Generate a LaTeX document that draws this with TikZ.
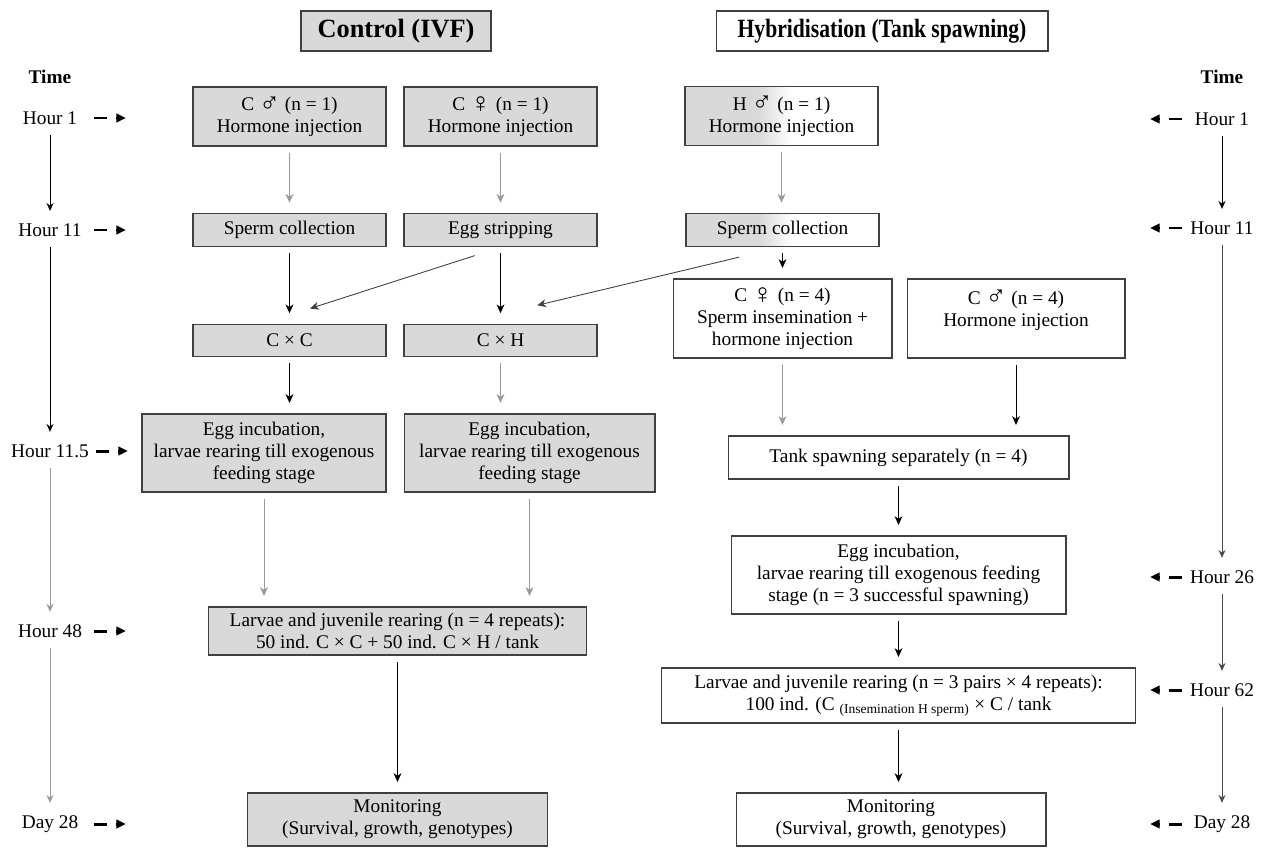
\documentclass[tikz,border=0pt]{standalone}
\usepackage{fontspec}
\setmainfont{Liberation Serif}
\usetikzlibrary{arrows.meta,calc}
\definecolor{boxgray}{HTML}{D9D9D9}
\definecolor{edgegray}{HTML}{404040}
\definecolor{lightarrow}{HTML}{9A9A9A}
\newcommand{\male}{\raisebox{-0.15ex}{\scalebox{1.45}{♂}}}
\newcommand{\female}{\raisebox{-0.25ex}{\scalebox{1.45}{♀}}}
\tikzset{
  base/.style={draw=edgegray, line width=0.6pt, align=center, inner sep=1pt,
    font=\fontsize{11}{12.5}\selectfont},
  grey box/.style={base, fill=boxgray},
  white box/.style={base, fill=white},
  half box/.style={base, fill=white, path picture={
      \fill[boxgray] (path picture bounding box.south west) rectangle
        ($(path picture bounding box.north west)!0.38!(path picture bounding box.north east)$);
      \shade[left color=boxgray, right color=white]
        ($(path picture bounding box.south west)!0.38!(path picture bounding box.south east)$) rectangle
        ($(path picture bounding box.north west)!0.55!(path picture bounding box.north east)$);}},
  heading/.style={font=\fontsize{15}{18}\selectfont\bfseries, minimum height=0.8cm},
  pair box/.style={minimum width=3.86cm, minimum height=1.18cm},
  slim box/.style={minimum width=3.86cm, minimum height=0.65cm},
  flow/.style={-{Stealth[length=5pt,width=4.5pt,inset=1.5pt]}, line width=0.5pt,
    shorten <=3.5pt, shorten >=6pt},
  timelab/.style={inner sep=1pt, font=\fontsize{11}{12.5}\selectfont},
  timehead/.style={inner sep=1pt, font=\fontsize{11}{12.5}\selectfont\bfseries},
  timearr/.style={line width=1.7pt, dash pattern=on 7.4pt off 5pt,
    -{Triangle[length=5.5pt,width=4.8pt]}},
  timeline/.style={-{Stealth[length=4.5pt,width=4pt,inset=1.5pt]}, line width=0.5pt,
    shorten <=5pt, shorten >=6pt}
}
\begin{document}
\begin{tikzpicture}[x=0.02cm,y=-0.02cm]
  \useasboundingbox (0,0) rectangle (1268,849);
  % headings
  \node[grey box, heading, minimum width=3.8cm] (ctrl) at (396,31) {Control (IVF)};
  \node[white box, heading, minimum width=6.64cm] (hyb) at (882,31)
    {\scalebox{0.82}[1]{Hybridisation (Tank spawning)}};
  % time, left
  \node[timehead] (tmL) at (50,77) {Time};
  \foreach \lab/\y/\s [count=\i] in {Hour 1/118/44, Hour 11/230/44, Hour 11.5/451/46, Hour 48/631/44, Day 28/824/44}{
    \node[timelab] (tL\i) at (50,\y) {\lab};
    \draw[timearr] ($(tL\i)+(\s,0)$) -- ++(32,0);
  }
  \foreach \a/\b/\c in {1/2/black, 2/3/black, 3/4/lightarrow, 4/5/lightarrow}
    \draw[timeline, \c] (tL\a.south) -- (tL\b.north);
  % time, right
  \node[timehead] (tmR) at (1222,77) {Time};
  \foreach \lab/\y [count=\i] in {Hour 1/119, Hour 11/228, Hour 26/577, Hour 62/690, Day 28/824}{
    \node[timelab] (tR\i) at (1222,\y) {\lab};
    \draw[timearr] ($(tR\i)+(-40,0)$) -- ++(-32,0);
  }
  \foreach \a/\b/\c in {1/2/black, 2/3/black!70, 3/4/black!70, 4/5/black!70}
    \draw[timeline, \c] (tR\a.south) -- (tR\b.north);

  % control (IVF)
  \node[grey box, pair box] (cm1) at (289.5,116.5) {C \male\ (n = 1)\\Hormone injection};
  \node[grey box, pair box] (cf1) at (500.5,116.5) {C \female\ (n = 1)\\Hormone injection};
  \node[grey box, slim box] (spc) at (289.5,230) {Sperm collection};
  \node[grey box, slim box] (egs) at (500.5,230) {Egg stripping};
  \node[grey box, slim box] (cxc) at (289.5,340.5) {C × C};
  \node[grey box, slim box] (cxh) at (500.5,340.5) {C × H};
  \node[grey box, minimum width=4.88cm, minimum height=1.56cm] (eiL) at (264,453)
    {Egg incubation,\\larvae rearing till exogenous\\feeding stage};
  \node[grey box, minimum width=5.02cm, minimum height=1.56cm] (eiC) at (529.5,453)
    {Egg incubation,\\larvae rearing till exogenous\\feeding stage};
  \node[grey box, minimum width=7.58cm, minimum height=0.96cm] (larL) at (397.5,631)
    {Larvae and juvenile rearing (n = 4 repeats):\\50 ind. C × C + 50 ind. C × H / tank};
  \node[grey box, minimum width=6cm, minimum height=1.06cm] (monL) at (397.5,819.5)
    {Monitoring\\(Survival, growth, genotypes)};

  % hybridisation (tank spawning)
  \node[half box, pair box] (hm1) at (781.5,116) {H \male\ (n = 1)\\Hormone injection};
  \node[half box, slim box] (sph) at (782.5,230) {Sperm collection};
  \node[white box, minimum width=4.38cm, minimum height=1.58cm] (cf4) at (782.5,318.5)
    {C \female\ (n = 4)\\Sperm insemination +\\hormone injection};
  \node[white box, minimum width=4.36cm, minimum height=1.58cm, text depth=1.2em] (cm4) at (1016,318.5)
    {C \male\ (n = 4)\\Hormone injection};
  \node[white box, minimum width=6.82cm, minimum height=0.86cm] (tank) at (898.5,457.5)
    {Tank spawning separately (n = 4)};
  \node[white box, minimum width=6.7cm, minimum height=1.56cm] (eiR) at (898.5,575)
    {Egg incubation,\\larvae rearing till exogenous feeding\\stage (n = 3 successful spawning)};
  \node[white box, minimum width=9.5cm, minimum height=1.1cm] (larR) at (898.5,695.5)
    {Larvae and juvenile rearing (n = 3 pairs × 4 repeats):\\100 ind. (C \textsubscript{(Insemination H sperm)} × C / tank};
  \node[white box, minimum width=6.2cm, minimum height=1.06cm] (monR) at (891,819.5)
    {Monitoring\\(Survival, growth, genotypes)};

  % connectors, control
  \draw[flow, lightarrow] (cm1) -- (spc);
  \draw[flow, lightarrow] (cf1) -- (egs);
  \draw[flow] (spc) -- (cxc);
  \draw[flow] (egs) -- (cxh);
  \draw[flow, black!75] ([xshift=-0.4cm,yshift=-0.14cm]egs.south) -- ([xshift=0.21cm,yshift=0.24cm]cxc.north);
  \draw[flow] (cxc.south) -- (cxc.south |- eiL.north);
  \draw[flow, lightarrow] (cxh.south) -- (cxh.south |- eiL.north);
  \draw[flow, lightarrow] (eiL.south) -- (eiL.south |- larL.north);
  \draw[flow, lightarrow] (eiC.south) -- (eiC.south |- larL.north);
  \draw[flow] (larL) -- (monL);
  % connectors, hybridisation
  \draw[flow, lightarrow] (hm1.south) -- (hm1.south |- sph.north);
  \draw[flow, black!75] ([xshift=-0.75cm,yshift=-0.18cm]sph.south) -- ([xshift=0.53cm,yshift=0.32cm]cxh.north);
  \draw[flow] (sph) -- (cf4);
  \draw[flow, lightarrow] (cf4.south) -- (cf4.south |- tank.north);
  \draw[flow] (cm4.south) -- (cm4.south |- tank.north);
  \draw[flow] (tank) -- (eiR);
  \draw[flow] (eiR) -- (larR);
  \draw[flow] (larR.south) -- (larR.south |- monR.north);
\end{tikzpicture}
\end{document}
